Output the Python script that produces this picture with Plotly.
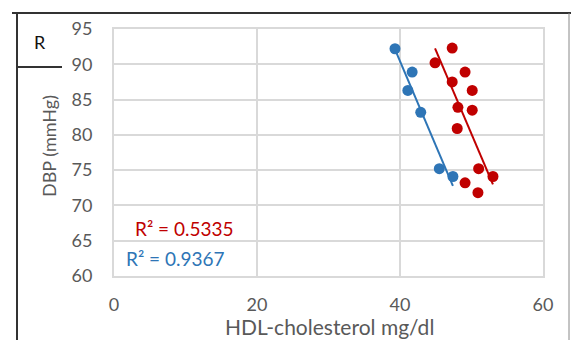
import numpy as np
import plotly.graph_objects as go

# Data
blue_x = [39.3, 41.7, 41.1, 42.9, 45.5, 47.4]
blue_y = [92.2, 88.9, 86.3, 83.2, 75.2, 74.1]
red_x = [47.3, 44.9, 49.1, 47.3, 50.1, 48.1, 50.1, 48.0, 51.0, 53.0, 49.1, 50.9]
red_y = [92.3, 90.2, 88.9, 87.5, 86.3, 83.9, 83.5, 80.9, 75.2, 74.1, 73.2, 71.8]
x_ticks = [0, 20, 40, 60]
y_ticks = [60, 65, 70, 75, 80, 85, 90, 95]
red_r2_label = "R² = 0.5335"
blue_r2_label = "R² = 0.9367"
x_title = "HDL-cholesterol mg/dl"
y_title = "DBP (mmHg)"
panel_label = "R"

BLUE = "#2E75B6"
RED = "#C00000"
GRAY = "#595959"
GRID = "#D9D9D9"
FONT = "Lato"

def trend(xs, ys):
    m, b = np.polyfit(xs, ys, 1)
    xr = np.array([min(xs), max(xs)])
    return xr, m * xr + b

fig = go.Figure()
rx, ry = trend(red_x, red_y)
bx, by = trend(blue_x, blue_y)
fig.add_trace(go.Scatter(x=rx, y=ry, mode="lines", line=dict(color=RED, width=2), showlegend=False))
fig.add_trace(go.Scatter(x=bx, y=by, mode="lines", line=dict(color=BLUE, width=2), showlegend=False))
fig.add_trace(go.Scatter(x=red_x, y=red_y, mode="markers",
                         marker=dict(color=RED, size=11, symbol="circle"), showlegend=False))
fig.add_trace(go.Scatter(x=blue_x, y=blue_y, mode="markers",
                         marker=dict(color=BLUE, size=11, symbol="circle"), showlegend=False))

fig.update_layout(
    width=571, height=340,
    margin=dict(l=114, r=28, t=29, b=64, autoexpand=False),
    paper_bgcolor="white", plot_bgcolor="white",
    font=dict(family=FONT, color=GRAY, size=18),
    xaxis=dict(range=[0, 60], tickvals=x_ticks, showgrid=True, gridcolor=GRID, gridwidth=2,
               zeroline=False, showline=True, mirror=True, linecolor=GRID, linewidth=2,
               ticks="outside", ticklen=11, tickcolor="rgba(0,0,0,0)", automargin=False,
               tickfont=dict(size=18)),
    yaxis=dict(range=[60, 95], tickvals=y_ticks, showgrid=True, gridcolor=GRID, gridwidth=2,
               zeroline=False, showline=True, mirror=True, linecolor=GRID, linewidth=2,
               ticks="outside", ticklen=16, tickcolor="rgba(0,0,0,0)", automargin=False,
               tickfont=dict(size=18)),
)

def px(x):
    return (x - 114) / 429

def py(y):
    return (276 - y) / 247

fig.add_annotation(xref="paper", yref="paper", x=px(133), y=py(228),
                   xanchor="left", yanchor="middle", showarrow=False, text=red_r2_label,
                   font=dict(color=RED, size=19, family=FONT))
fig.add_annotation(xref="paper", yref="paper", x=px(124), y=py(258),
                   xanchor="left", yanchor="middle", showarrow=False, text=blue_r2_label,
                   font=dict(color=BLUE, size=19, family=FONT))
fig.add_annotation(xref="paper", yref="paper", x=px(40), y=py(42),
                   xanchor="center", yanchor="middle", showarrow=False, text=panel_label,
                   font=dict(color="#111111", size=18, family=FONT))
fig.add_annotation(xref="paper", yref="paper", x=px(329), y=py(326),
                   xanchor="center", yanchor="middle", showarrow=False, text=x_title,
                   font=dict(color=GRAY, size=21, family=FONT))
fig.add_annotation(xref="paper", yref="paper", x=px(49), y=py(146),
                   xanchor="center", yanchor="middle", showarrow=False, text=y_title,
                   textangle=-90, font=dict(color=GRAY, size=18, family=FONT))

# table frame
fig.add_shape(type="line", xref="paper", yref="paper", x0=px(12), x1=px(571), y0=py(13), y1=py(13),
              line=dict(color="#333333", width=2))
fig.add_shape(type="line", xref="paper", yref="paper", x0=px(17), x1=px(17), y0=py(13), y1=py(340),
              line=dict(color="#333333", width=2))
fig.add_shape(type="line", xref="paper", yref="paper", x0=px(17), x1=px(62), y0=py(67), y1=py(67),
              line=dict(color="#333333", width=2))
fig.add_shape(type="line", xref="paper", yref="paper", x0=px(569), x1=px(569), y0=py(13), y1=py(340),
              line=dict(color="#888888", width=1))

fig.write_html("out.html", config={"displayModeBar": False},
               post_script="document.body.style.margin='0';document.body.style.overflow='hidden';")
